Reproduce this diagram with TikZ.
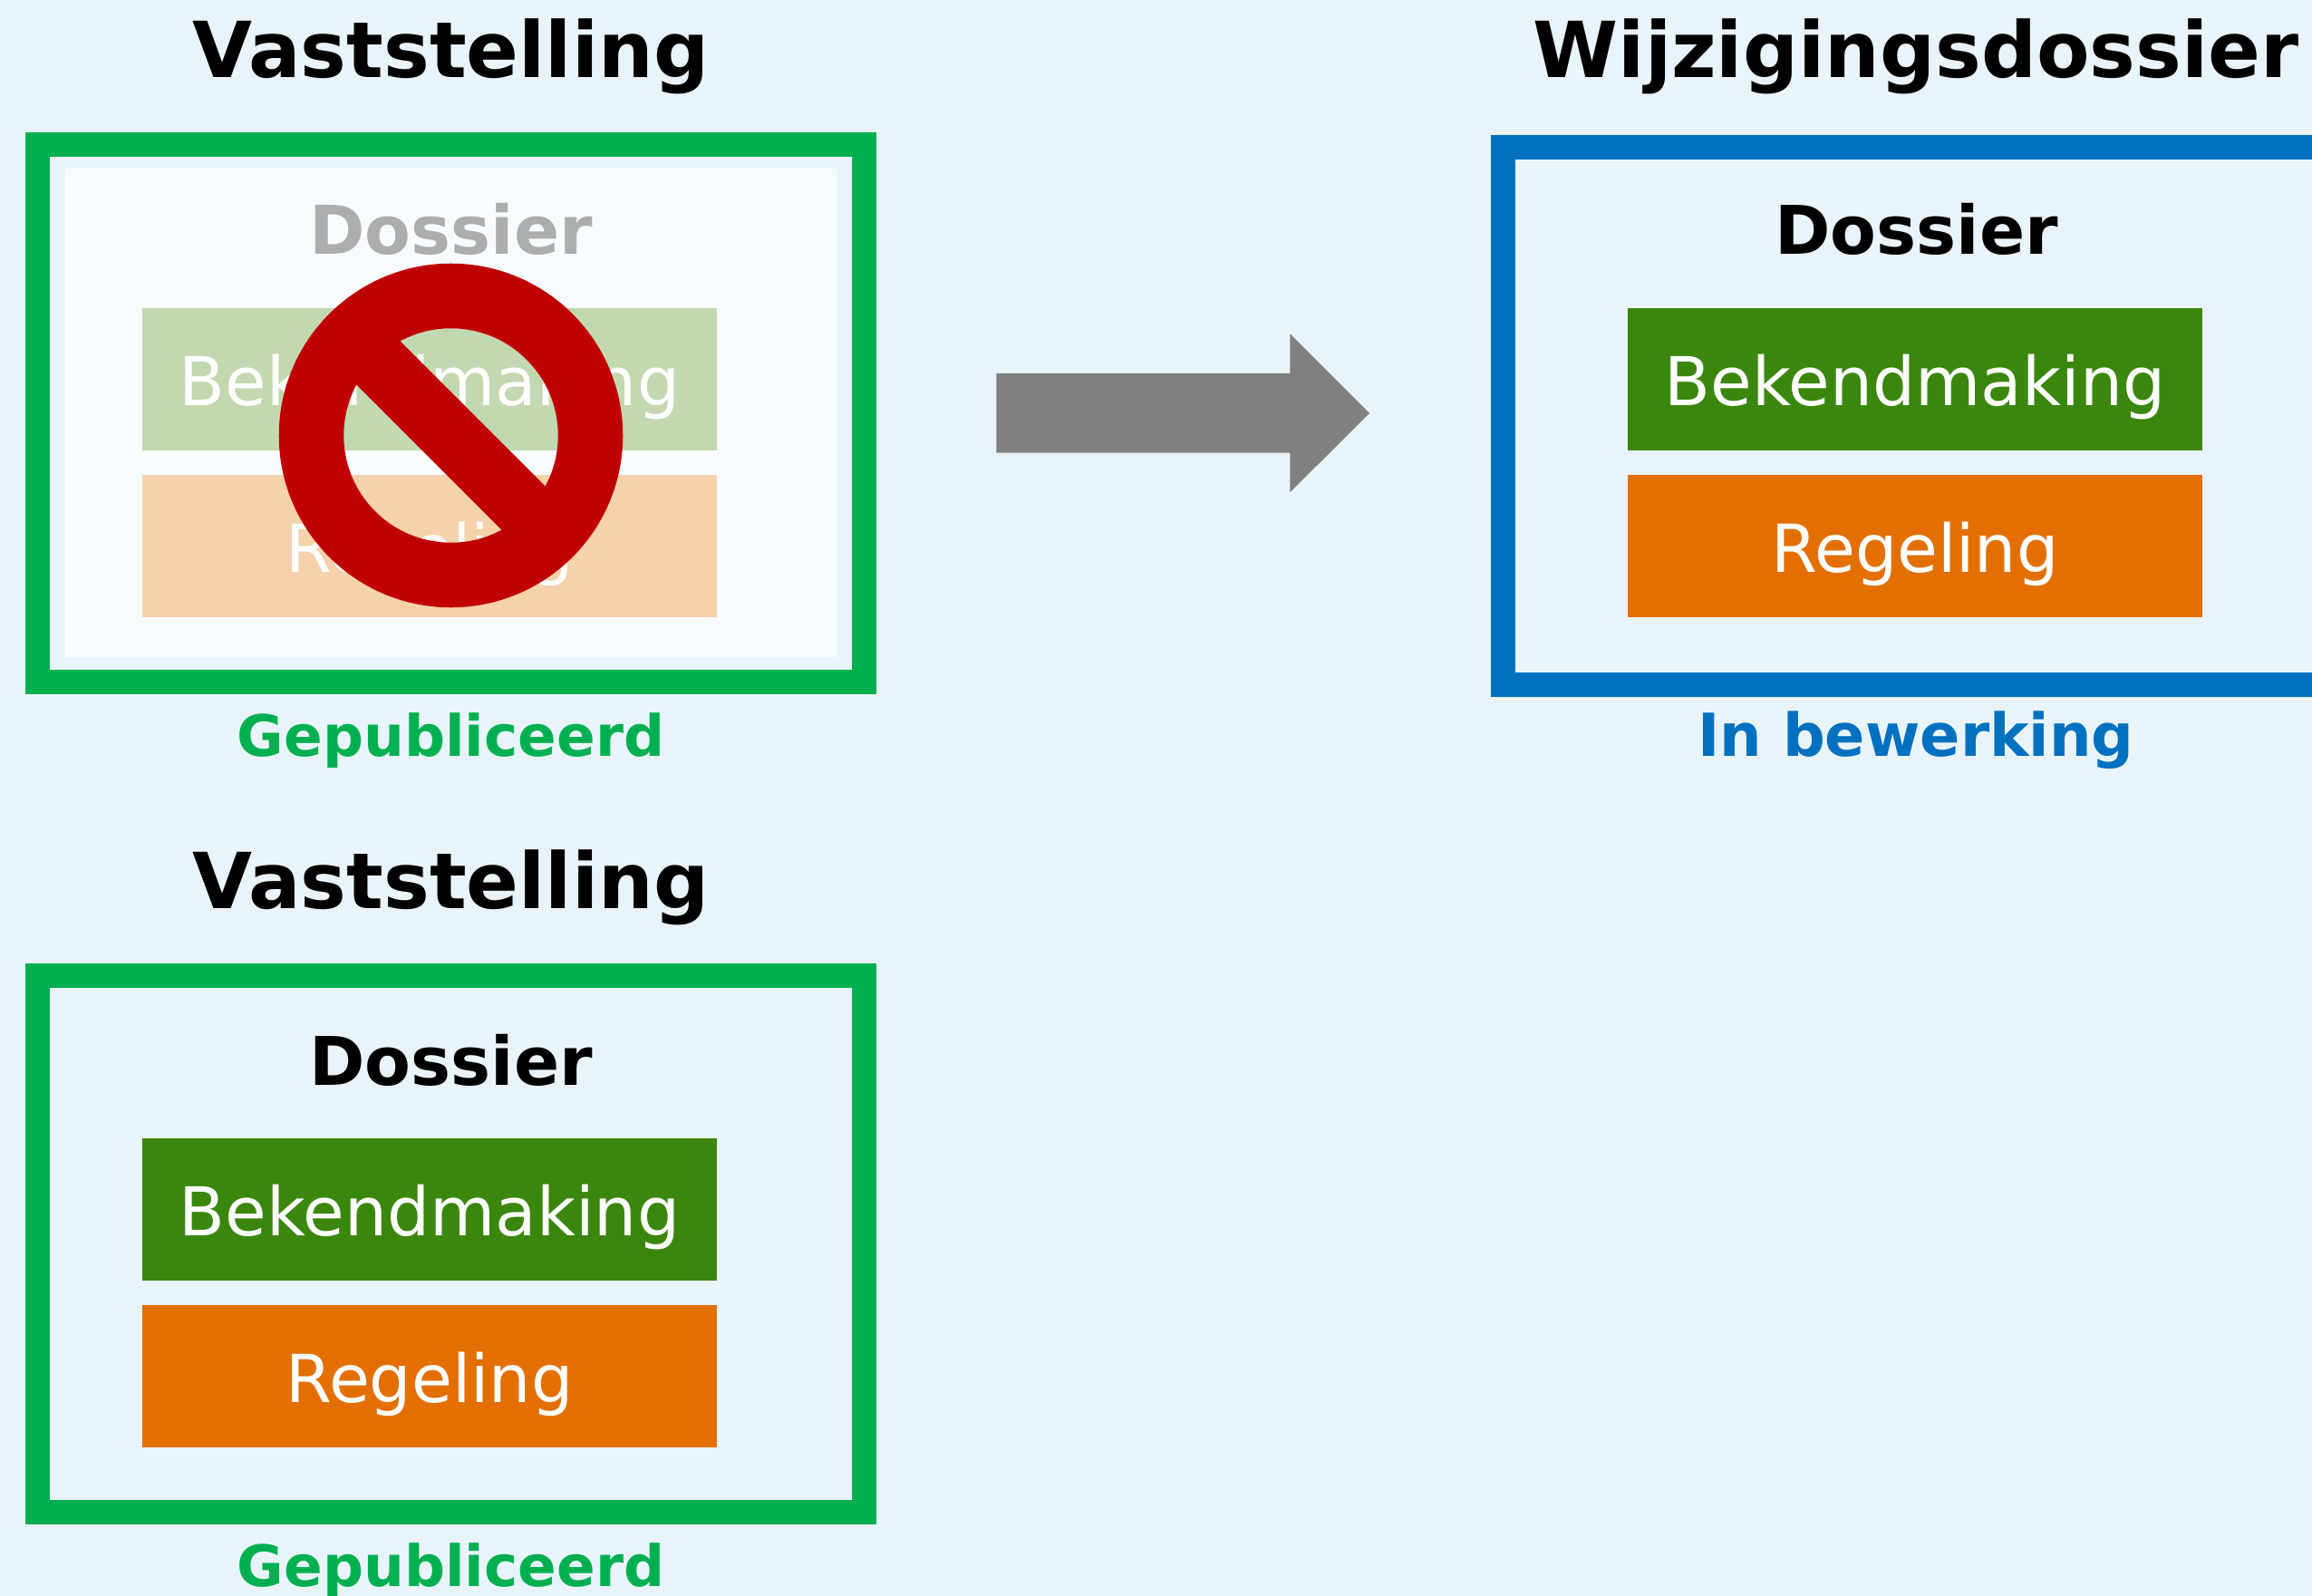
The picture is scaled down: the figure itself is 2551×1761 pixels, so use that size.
\documentclass[tikz,border=0pt]{standalone}
\usepackage{fontspec}
\setmainfont{DejaVu Sans}
\definecolor{achtergrond}{HTML}{E9F4FA}
\definecolor{paneel}{HTML}{F7FBFE}
\definecolor{groen}{HTML}{00B050}
\definecolor{blauw}{HTML}{0070C0}
\definecolor{rood}{HTML}{C00000}
\definecolor{bekgroen}{HTML}{3B870E}
\definecolor{regoranje}{HTML}{E26F00}
\definecolor{bekvaag}{HTML}{C2D8B0}
\definecolor{regvaag}{HTML}{F5D1AC}
\definecolor{vaaggrijs}{HTML}{ADADAD}
\tikzset{
	titel/.style={anchor=base,inner sep=0pt,font=\fontsize{24.25}{28}\selectfont\bfseries},
	dossier/.style={anchor=base,inner sep=0pt,font=\fontsize{21.05}{25}\selectfont\bfseries},
	status/.style={anchor=base,inner sep=0pt,font=\fontsize{17.9}{22}\selectfont\bfseries},
	blok/.style={inner sep=0pt,minimum width=6.34cm,minimum height=1.57cm,text height=0.57cm,text depth=0pt,
		text=white,font=\fontsize{20.77}{25}\selectfont},
	bekblok/.style={blok,font=\fontsize{21.1}{25}\selectfont},
	kader/.style={line width=7.68pt}
}
\begin{document}
\begin{tikzpicture}[x=0.01cm,y=-0.01cm]
	\useasboundingbox (0,0) rectangle (2551,1761);
	\fill[achtergrond](0,0) rectangle (2551,1761);
	
	% vaststelling, doorgehaald
	\draw[kader][groen](41.5,160) rectangle (953,752.5);
	\fill[paneel](72,186) rectangle (923,725);
	\node[titel] (titelA) at (497.5,86) {Vaststelling};
	\node[dossier,text=vaaggrijs] (dossierA) at (497.5,281) {Dossier};
	\node[bekblok,fill=bekvaag] (bekA) at (474,418.5) {Bekendmaking};
	\node[blok,fill=regvaag] (regA) at (474,602.5) {Regeling};
	\node[status,text=groen] (statusA) at (497.5,834) {Gepubliceerd};
	
	\draw[line width=20.34pt][rood](497.5,480.5) circle [radius=154];
	\draw[line width=19.35pt][rood](388.6,371.6)--(606.4,589.4);
	
	% pijl
	\fill[gray](1099.3,412)--(1423.3,412)--(1423.3,368.3)--(1511,456)
	--(1423.3,543.3)--(1423.3,499.7)--(1099.3,499.7)--cycle;
	
	% wijzigingsdossier
	\draw[kader][blauw](2551,162.5)--(1658,162.5)--(1658,755.5)--(2551,755.5);
	\node[titel] (titelB) at (2114,86) {Wijzigingsdossier};
	\node[dossier] (dossierB) at (2114.5,281) {Dossier};
	\node[bekblok,fill=bekgroen] (bekB) at (2113,418.5) {Bekendmaking};
	\node[blok,fill=regoranje] (regB) at (2113,602.5) {Regeling};
	\node[status,text=blauw,font=\fontsize{18.6}{22}\selectfont\bfseries] (statusB) at (2114,834) {In bewerking};
	
	% vaststelling, onder
	\draw[kader][groen](41.5,1076) rectangle (953,1668.5);
	\node[titel] (titelC) at (497.5,1002) {Vaststelling};
	\node[dossier] (dossierC) at (497.5,1197) {Dossier};
	\node[bekblok,fill=bekgroen] (bekC) at (474,1334.5) {Bekendmaking};
	\node[blok,fill=regoranje] (regC) at (474,1518.5) {Regeling};
	\node[status,text=groen] (statusC) at (497.5,1750) {Gepubliceerd};
	
\end{tikzpicture}
\end{document}
